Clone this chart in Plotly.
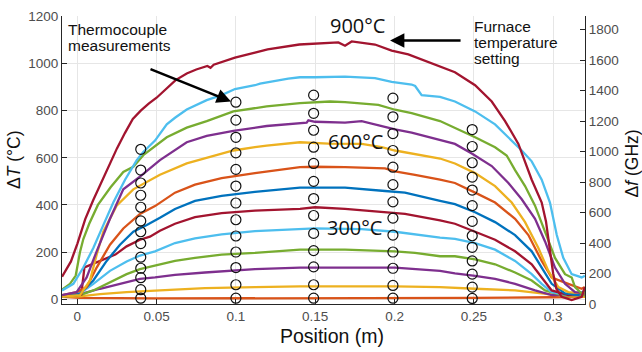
import plotly.graph_objects as go

# ---------------- data ----------------
# furnace setting 900 C (dark red)
pos_900 = [-0.0096, -0.004, 0.0, 0.005, 0.01, 0.015, 0.02, 0.025, 0.03, 0.035, 0.04, 0.045, 0.05, 0.056,
           0.062, 0.069, 0.075, 0.082, 0.084, 0.086, 0.0994, 0.112, 0.12, 0.14, 0.15, 0.1646, 0.1688, 0.173,
           0.1877, 0.1982, 0.2087, 0.2213, 0.2381, 0.2508, 0.2613, 0.2697, 0.2781, 0.2865, 0.2928, 0.2955,
           0.298, 0.3, 0.302, 0.3054, 0.3117, 0.318, 0.32]
dT_900 = [95, 160, 235, 340, 420, 495, 570, 640, 705, 765, 800, 830, 855, 893,
          930, 958, 975, 990, 982, 995, 1025, 1046, 1060, 1081, 1085, 1090, 1076, 1094,
          1081, 1055, 1039, 1005, 963, 908, 839, 756, 659, 507, 410, 330,
          200, 110, 45, 10, -4, 10, 51]
# 825 C (light blue)
pos_825 = [-0.0096, -0.0025, 0.0038, 0.0101, 0.0164, 0.0227, 0.0301, 0.0375, 0.0416, 0.049, 0.0564, 0.0616,
           0.069, 0.0816, 0.091, 0.0994, 0.112, 0.1152, 0.133, 0.1404, 0.1499, 0.1688, 0.1877, 0.1982, 0.2108,
           0.213, 0.2171, 0.2287, 0.2381, 0.2508, 0.2634, 0.2718, 0.2802, 0.2865, 0.2928, 0.298, 0.3023,
           0.3064, 0.3117, 0.318, 0.32]
dT_825 = [37, 65, 134, 217, 314, 410, 507, 590, 625, 673, 742, 770,
          805, 845, 866, 892, 908, 915, 936, 942, 942, 945, 938, 922, 911,
          905, 866, 859, 839, 797, 742, 687, 631, 585, 507, 410, 272,
          175, 106, 92, 99]
# 750 C (green)
pos_750 = [-0.0096, -0.0046, -0.001, 0.0017, 0.0038, 0.0075, 0.013, 0.021, 0.029, 0.0353, 0.0416, 0.0564,
           0.069, 0.0816, 0.0984, 0.1194, 0.1404, 0.1593, 0.1688, 0.1898, 0.2003, 0.2108, 0.2287, 0.2381,
           0.2508, 0.2634, 0.2707, 0.276, 0.2823, 0.2886, 0.2949, 0.3012, 0.3075, 0.3117, 0.3138, 0.318, 0.32]
dT_750 = [40, 65, 100, 200, 255, 320, 400, 475, 540, 562, 611, 687,
          728, 756, 797, 818, 832, 839, 836, 825, 804, 790, 756, 728,
          687, 645, 610, 548, 480, 397, 286, 175, 106, 92, 51, 24, 30]
# 675 C (purple)
pos_675 = [-0.0096, -0.0004, 0.0059, 0.0122, 0.0206, 0.029, 0.0395, 0.0521, 0.069, 0.0816, 0.0984, 0.1194,
           0.1446, 0.1457, 0.1499, 0.1688, 0.1793, 0.1919, 0.2003, 0.2108, 0.2255, 0.2381, 0.2487, 0.2613,
           0.2718, 0.2802, 0.2886, 0.2949, 0.3012, 0.3075, 0.3138, 0.32]
dT_675 = [17, 30, 92, 203, 341, 466, 520, 590, 666, 693, 714, 735,
          749, 759, 753, 749, 756, 735, 721, 707, 680, 659, 618, 565,
          493, 424, 341, 245, 134, 65, 30, 24]
# 600 C (yellow)
pos_600 = [-0.0096, 0.0017, 0.008, 0.0122, 0.0164, 0.0248, 0.0353, 0.0458, 0.0521, 0.069, 0.091, 0.0984,
           0.112, 0.1194, 0.1404, 0.1583, 0.1793, 0.1919, 0.2003, 0.2171, 0.2287, 0.2381, 0.2508, 0.2634,
           0.2739, 0.2823, 0.2907, 0.297, 0.3033, 0.3096, 0.32]
dT_600 = [10, 17, 79, 189, 286, 397, 466, 507, 528, 576, 618, 631,
          645, 652, 666, 660, 659, 645, 631, 611, 597, 576, 535, 480,
          410, 327, 217, 120, 51, 30, 24]
# 525 C (orange)
pos_525 = [-0.0096, -0.0004, 0.0059, 0.0122, 0.0206, 0.029, 0.0395, 0.049, 0.0616, 0.0742, 0.091, 0.112,
           0.1404, 0.1499, 0.1688, 0.194, 0.2003, 0.2129, 0.2287, 0.2381, 0.2508, 0.2634, 0.276, 0.2844,
           0.2928, 0.2991, 0.3096, 0.318, 0.32]
dT_525 = [17, 30, 51, 134, 231, 300, 362, 395, 452, 486, 514, 535,
          560, 562, 560, 555, 542, 528, 507, 493, 452, 410, 341, 272,
          162, 92, 65, 44, 51]
# 450 C (blue)
pos_450 = [-0.0096, 0.0017, 0.0101, 0.0185, 0.0269, 0.0353, 0.0438, 0.0521, 0.0616, 0.0742, 0.091, 0.112,
           0.1404, 0.1688, 0.194, 0.2066, 0.2287, 0.2381, 0.2508, 0.2634, 0.276, 0.2865, 0.2928, 0.2991,
           0.3075, 0.3159, 0.32]
dT_450 = [10, 24, 79, 162, 231, 286, 315, 345, 383, 417, 438, 455,
          473, 473, 459, 452, 417, 403, 369, 327, 272, 203, 134, 65,
          24, 17, 37]
# 375 C (dark red)
pos_375 = [-0.0096, 0.0017, 0.0025, 0.0045, 0.0122, 0.024, 0.0311, 0.0395, 0.0458, 0.0521, 0.0616, 0.0742,
           0.091, 0.112, 0.1404, 0.1499, 0.1688, 0.194, 0.2066, 0.2287, 0.2381, 0.2508, 0.2634, 0.276,
           0.2865, 0.2928, 0.2991, 0.3096, 0.32]
dT_375 = [10, 17, 20, 135, 155, 189, 224, 252, 265, 290, 320, 348,
          365, 376, 383, 390, 383, 369, 362, 334, 320, 286, 252, 203,
          148, 92, 37, 17, 24]
# 300 C (light blue)
pos_300 = [-0.0096, 0.0017, 0.0101, 0.0206, 0.0311, 0.0395, 0.049, 0.0616, 0.0742, 0.091, 0.112, 0.1404,
           0.1499, 0.1793, 0.2003, 0.2287, 0.2381, 0.2508, 0.2634, 0.276, 0.2865, 0.2928, 0.2991, 0.3096, 0.32]
dT_300 = [17, 24, 65, 120, 160, 185, 203, 238, 258, 275, 289, 297,
          300, 297, 286, 261, 256, 238, 210, 162, 106, 65, 30, 17, 24]
# 225 C (green)
pos_225 = [-0.0096, 0.0017, 0.0101, 0.0206, 0.0311, 0.0395, 0.049, 0.0616, 0.0742, 0.091, 0.112, 0.1404,
           0.1688, 0.2003, 0.2129, 0.2287, 0.2381, 0.2508, 0.2634, 0.276, 0.2865, 0.2949, 0.3054, 0.32]
dT_225 = [10, 17, 37, 72, 106, 127, 141, 162, 175, 189, 196, 210,
          210, 203, 196, 182, 182, 169, 148, 113, 79, 37, 17, 17]
# 150 C (purple)
pos_150 = [-0.0096, 0.0017, 0.0143, 0.0269, 0.0395, 0.049, 0.0616, 0.0805, 0.112, 0.1404, 0.1688, 0.2003,
           0.2287, 0.2381, 0.2508, 0.2634, 0.276, 0.2886, 0.2991, 0.32]
dT_150 = [10, 21, 44, 65, 86, 92, 103, 113, 127, 134, 134, 134,
          120, 109, 99, 86, 65, 37, 17, 17]
# 75 C (yellow)
pos_75 = [-0.0096, 0.0017, 0.0143, 0.0311, 0.0521, 0.0805, 0.112, 0.1404, 0.2003, 0.2287, 0.2508, 0.276,
          0.2928, 0.3096, 0.32]
dT_75 = [10, 12, 21, 30, 37, 47, 51, 54, 54, 51, 44, 37, 24, 12, 10]
# baseline (orange)
pos_0 = [-0.0096, 0.0017, 0.05, 0.15, 0.25, 0.3, 0.32]
dT_0 = [10, 5, 3, 3, 5, 8, 10]

# thermocouple measurements
tc_positions = [0.04, 0.1, 0.149, 0.199, 0.249]
tc_040 = [636, 548, 493, 441, 390, 332, 286, 236, 178, 131, 91, 40, 4]
tc_100 = [836, 760, 687, 621, 551, 480, 408, 337, 268, 200, 134, 61, 4]
tc_149 = [866, 789, 717, 645, 576, 500, 427, 355, 279, 206, 137, 61, 4]
tc_199 = [853, 774, 703, 631, 560, 486, 413, 344, 272, 200, 131, 58, 4]
tc_249 = [720, 648, 579, 518, 463, 397, 330, 269, 220, 162, 106, 51, 3]

x_ticks = [0, 0.05, 0.1, 0.15, 0.2, 0.25, 0.3]
x_ticktext = ["0", "0.05", "0.1", "0.15", "0.2", "0.25", "0.3"]
y_ticks = [0, 200, 400, 600, 800, 1000, 1200]
y2_ticks = [0, 200, 400, 600, 800, 1000, 1200, 1400, 1600, 1800]

# ---------------- styling ----------------
BLUE, ORANGE, YELLOW, PURPLE = "#0072BD", "#D95319", "#EDB120", "#7E2F8E"
GREEN, LBLUE, DRED = "#77AC30", "#4DBEEE", "#A2142F"

W, H = 642, 352
L, R, T, B = 62, 57, 9, 48
PW, PH = W - L - R, H - T - B


def px(xp):
    return (xp - L) / PW


def py(yp):
    return (H - B - yp) / PH


curves = [
    (pos_0, dT_0, ORANGE), (pos_75, dT_75, YELLOW), (pos_150, dT_150, PURPLE),
    (pos_225, dT_225, GREEN), (pos_300, dT_300, LBLUE), (pos_375, dT_375, DRED),
    (pos_450, dT_450, BLUE), (pos_525, dT_525, ORANGE), (pos_600, dT_600, YELLOW),
    (pos_675, dT_675, PURPLE), (pos_750, dT_750, GREEN), (pos_825, dT_825, LBLUE),
    (pos_900, dT_900, DRED),
]

fig = go.Figure()
for xs, ys, col in curves:
    fig.add_trace(go.Scatter(x=xs, y=ys, mode="lines", line=dict(color=col, width=2.3),
                             hoverinfo="skip", showlegend=False))

for p, vals in zip(tc_positions, [tc_040, tc_100, tc_149, tc_199, tc_249]):
    fig.add_trace(go.Scatter(x=[p] * len(vals), y=vals, mode="markers",
                             marker=dict(symbol="circle-open", size=10, color="#111111",
                                         line=dict(width=1.2)),
                             hoverinfo="skip", showlegend=False))

# empty trace to attach the right axis
fig.add_trace(go.Scatter(x=[], y=[], yaxis="y2", showlegend=False))

AX = "#262626"
TICKF = dict(family="Liberation Sans, Arial", size=13.5, color="#4d4d4d")

fig.update_layout(
    width=W, height=H, margin=dict(l=L, r=R, t=T, b=B),
    paper_bgcolor="white", plot_bgcolor="white", showlegend=False,
    xaxis=dict(range=[-0.00965, 0.3201], tickvals=x_ticks, ticktext=x_ticktext,
               showgrid=True, gridcolor="#e6e6e6", gridwidth=1, zeroline=False,
               showline=True, linecolor=AX, linewidth=1.2, ticks="inside", ticklen=5,
               tickcolor=AX, tickfont=TICKF),
    yaxis=dict(range=[-20.7, 1202], tickvals=y_ticks, showgrid=True, gridcolor="#e6e6e6",
               gridwidth=1, zeroline=False, showline=True, linecolor=AX, linewidth=1.2,
               ticks="inside", ticklen=5, tickcolor=AX, tickfont=TICKF),
    yaxis2=dict(range=[0, 1889], tickvals=y2_ticks, overlaying="y", side="right",
                showgrid=False, zeroline=False, showline=True, linecolor=AX, linewidth=1.2,
                ticks="inside", ticklen=5, tickcolor=AX, tickfont=TICKF),
)

ARIAL = "Liberation Sans, Arial"
anns = []


def text(s, x, y, size, xanchor="left", family=ARIAL, angle=0, color="#111111"):
    anns.append(dict(text=s, x=px(x), y=py(y), xref="paper", yref="paper", showarrow=False,
                     xanchor=xanchor, yanchor="middle", textangle=angle,
                     font=dict(family=family, size=size, color=color)))


text("Thermocouple", 66, 22.5, 15.5)
text("measurements", 66, 39, 15.5)
text("Furnace", 471.5, 19.5, 15.5)
text("temperature", 471.5, 36, 15.5)
text("setting", 471.5, 52.5, 15.5)
text("900°C", 357.5, 19, 20, xanchor="center", family="Open Sans")
text("600°C", 355.8, 138, 20, xanchor="center", family="Open Sans")
text("300°C", 354.5, 226, 20, xanchor="center", family="Open Sans")
text("Position (m)", 331.7, 337, 19.5, xanchor="center")
text("Δ<i>T</i> (°C)", 14, 156.5, 17.5, xanchor="center", angle=-90)
text("Δ<i>f</i> (GHz)", 632, 160, 17.5, xanchor="center", angle=-90)

# arrows
anns.append(dict(x=0.0969, y=839, xref="x", yref="y", text="", showarrow=True,
                 ax=-82, ay=-33, arrowhead=2, arrowsize=1.1, arrowwidth=2.6, arrowcolor="black"))
anns.append(dict(x=0.1972, y=1098, xref="x", yref="y", text="", showarrow=True,
                 ax=72, ay=0, arrowhead=2, arrowsize=1.1, arrowwidth=2.6, arrowcolor="black"))

fig.update_layout(annotations=anns)
fig.write_html("out.html")
